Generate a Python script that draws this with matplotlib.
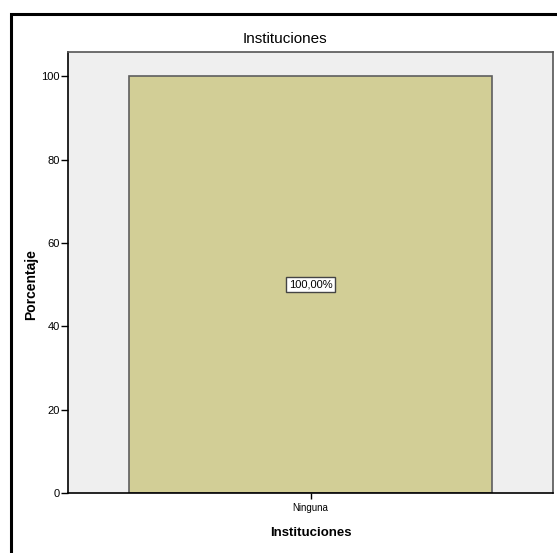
import matplotlib.pyplot as plt
from matplotlib.patches import Rectangle

categorias = ["Ninguna"]
porcentajes = [100.0]
etiquetas = ["100,00%"]
yticks = [0, 20, 40, 60, 80, 100]

plt.rcParams["font.family"] = ["Liberation Sans Narrow", "Liberation Sans", "DejaVu Sans"]

W, H = 557, 553
fig = plt.figure(figsize=(W / 100, H / 100), dpi=100)
ax = fig.add_axes([68 / W, 1 - 493 / H, (553 - 68) / W, (493 - 52) / H])
ax.set_facecolor("#efefef")

x = range(len(categorias))
ax.bar(x, porcentajes, width=0.75, color="#d2ce96", edgecolor="#5e5e5e", linewidth=1.2)
for i, (v, t) in enumerate(zip(porcentajes, etiquetas)):
    ax.text(i, v / 2, t, ha="center", va="center", fontsize=8,
            bbox=dict(boxstyle="square,pad=0.2", fc="white", ec="#444444", lw=1))

ax.set_xlim(-0.5, 0.5)
ax.set_ylim(0, 105.8)
ax.set_xticks(list(x))
ax.set_xticklabels(categorias, fontsize=7)
ax.set_yticks(yticks)
ax.set_yticklabels([str(t) for t in yticks], fontsize=8)
ax.tick_params(axis="y", length=5, width=1, pad=1)
ax.tick_params(axis="x", length=4, width=1, pad=3)
for s in ["left", "bottom"]:
    ax.spines[s].set_color("black")
    ax.spines[s].set_linewidth(1.2)
for s in ["top", "right"]:
    ax.spines[s].set_color("#555555")
    ax.spines[s].set_linewidth(1.2)

fig.text(285 / W, 1 - 39 / H, "Instituciones", ha="center", va="center", fontsize=11)
fig.text(311 / W, 1 - 533 / H, "Instituciones", ha="center", va="center", fontsize=9.5, fontweight="bold")
fig.text(31 / W, 1 - 285 / H, "Porcentaje", ha="center", va="center", rotation=90,
         fontsize=10, fontweight="bold", family=["Liberation Sans", "DejaVu Sans"])

fig.patches.append(Rectangle((11 / W, -0.1), 1.2, 1.1 - 14 / H, transform=fig.transFigure,
                             fill=False, ec="black", lw=2.2))

fig.savefig("out.png", dpi=100)
